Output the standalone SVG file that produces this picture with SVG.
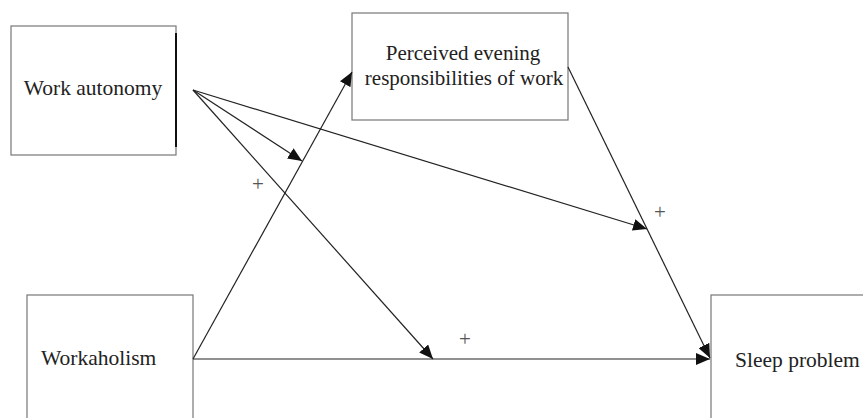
<svg xmlns="http://www.w3.org/2000/svg" width="863" height="418" viewBox="0 0 863 418">
<style>
.box{fill:#fff;stroke:#777;stroke-width:1.2}
.lbl{font-family:"Liberation Serif","Times New Roman",serif;font-size:21.5px;fill:#222}
.pl{font-family:"Liberation Serif","Times New Roman",serif;font-size:21px;fill:#555}
.ln{stroke:#222;stroke-width:1.2;fill:none;marker-end:url(#ah)}
</style>
<defs>
<marker id="ah" markerUnits="userSpaceOnUse" markerWidth="16" markerHeight="12" refX="14" refY="6" orient="auto">
<path d="M0,0 L14,6 L0,12 Z" fill="#111"/>
</marker>
</defs>
<rect width="863" height="418" fill="#fff"/>
<g id="work-autonomy">
<rect class="box" x="11" y="26" width="165" height="129"/>
<line x1="176" y1="33" x2="176" y2="147" stroke="#111" stroke-width="2"/>
<text class="lbl" x="93" y="95" text-anchor="middle">Work autonomy</text>
</g>
<g id="perceived">
<rect class="box" x="352" y="13" width="216" height="107"/>
<text class="lbl" x="463" y="60" text-anchor="middle" style="font-size:21px">Perceived evening</text>
<text class="lbl" x="464" y="85" text-anchor="middle" style="font-size:21px">responsibilities of work</text>
</g>
<g id="workaholism">
<rect class="box" x="27" y="295" width="166" height="140"/>
<text class="lbl" x="41" y="365">Workaholism</text>
</g>
<g id="sleep">
<rect class="box" x="711" y="295" width="170" height="140"/>
<text class="lbl" x="735" y="367">Sleep problem</text>
</g>
<g id="connectors">
<line class="ln" x1="193" y1="90" x2="647" y2="229"/>
<line class="ln" x1="193" y1="90" x2="302" y2="161"/>
<line class="ln" x1="193" y1="90" x2="433" y2="359"/>
<line class="ln" x1="193" y1="359" x2="352" y2="72"/>
<line class="ln" x1="568" y1="67" x2="710" y2="358"/>
<line class="ln" x1="193" y1="359" x2="710" y2="359"/>
</g>
<g id="signs">
<text class="pl" x="258" y="191" text-anchor="middle">+</text>
<text class="pl" x="465" y="346" text-anchor="middle">+</text>
<text class="pl" x="660" y="219" text-anchor="middle">+</text>
</g>
</svg>
